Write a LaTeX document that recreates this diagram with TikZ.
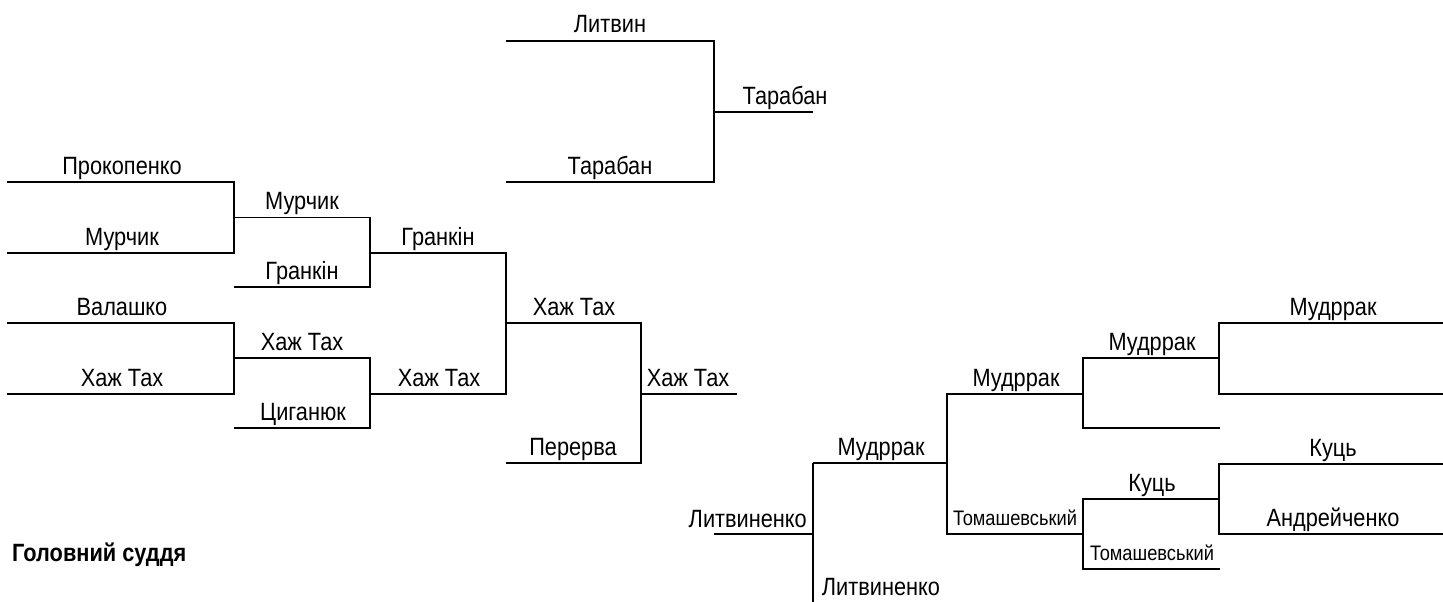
\documentclass[tikz,border=0pt]{standalone}
\usepackage{fontspec}
\setmainfont{Liberation Sans}[FakeStretch=0.87]
\begin{document}
\begin{tikzpicture}[x=1pt,y=-1pt,
  ln/.style={line width=1.7pt, line join=miter},
  lbl/.style={anchor=base, inner sep=0pt, font=\fontsize{25}{25}\selectfont},
  sml/.style={anchor=base, inner sep=0pt, font=\fontsize{21}{21}\selectfont},
  ttl/.style={anchor=base west, inner sep=0pt, font=\fontsize{25}{25}\selectfont\bfseries}]
\useasboundingbox (0,0) rectangle (1443,602);
% --- coordinates: left bracket
\coordinate (L1s) at (7,182);   \coordinate (L1e) at (234,182);
\coordinate (L2s) at (7,253);   \coordinate (L2e) at (234,253);
\coordinate (L3s) at (7,323);   \coordinate (L3e) at (234,323);
\coordinate (L4s) at (7,394);   \coordinate (L4e) at (234,394);
\coordinate (M1s) at (234,217.5); \coordinate (M1e) at (370,217.5);
\coordinate (M2s) at (234,287); \coordinate (M2e) at (370,287);
\coordinate (M3s) at (234,358); \coordinate (M3e) at (370,358);
\coordinate (M4s) at (234,428); \coordinate (M4e) at (370,428);
\coordinate (N1s) at (370,253); \coordinate (N1e) at (506,253);
\coordinate (N2s) at (370,394); \coordinate (N2e) at (506,394);
\coordinate (P1s) at (506,323); \coordinate (P1e) at (641,323);
\coordinate (P2s) at (506,463); \coordinate (P2e) at (641,463);
\coordinate (Q1s) at (641,394); \coordinate (Q1e) at (737,394);
% --- top bracket
\coordinate (T1s) at (506,41);  \coordinate (T1e) at (714,41);
\coordinate (T2s) at (506,182); \coordinate (T2e) at (714,182);
\coordinate (T3s) at (714,112); \coordinate (T3e) at (813,112);
% --- right bracket
\coordinate (R0s) at (714,534); \coordinate (R0e) at (813,534);
\coordinate (Rv1) at (813,463); \coordinate (Rv2) at (813,602);
\coordinate (R1e) at (947,463);
\coordinate (S1s) at (947,394); \coordinate (S1e) at (1083,394);
\coordinate (S2s) at (947,534); \coordinate (S2e) at (1083,534);
\coordinate (U1s) at (1083,358); \coordinate (U1e) at (1219,358);
\coordinate (U2s) at (1083,428); \coordinate (U2e) at (1220,428);
\coordinate (U3s) at (1083,499); \coordinate (U3e) at (1219,499);
\coordinate (U4s) at (1083,569); \coordinate (U4e) at (1220,569);
\coordinate (V1s) at (1219,323); \coordinate (V1e) at (1443,323);
\coordinate (V2s) at (1219,394); \coordinate (V2e) at (1443,394);
\coordinate (V3s) at (1219,464); \coordinate (V3e) at (1443,464);
\coordinate (V4s) at (1219,534); \coordinate (V4e) at (1443,534);
% --- lines
\draw[ln] (L1s) -- (L1e) -- (L2e) -- (L2s);
\draw[ln] (L3s) -- (L3e) -- (L4e) -- (L4s);
\draw[ln] (M1s) -- (M1e) -- (M2e) -- (M2s);
\draw[ln] (M3s) -- (M3e) -- (M4e) -- (M4s);
\draw[ln] (N1s) -- (N1e) -- (N2e) -- (N2s);
\draw[ln] (P1s) -- (P1e) -- (P2e) -- (P2s);
\draw[ln] (Q1s) -- (Q1e);
\draw[ln] (T1s) -- (T1e) -- (T2e) -- (T2s);
\draw[ln] (T3s) -- (T3e);
\draw[ln] (R0s) -- (R0e);
\draw[ln] (Rv1) -- (Rv2);
\draw[ln] (Rv1) -- (R1e);
\draw[ln] (S1e) -- (S1s) -- (S2s) -- (S2e);
\draw[ln] (U1e) -- (U1s) -- (U2s) -- (U2e);
\draw[ln] (U3e) -- (U3s) -- (U4s) -- (U4e);
\draw[ln] (V1e) -- (V1s) -- (V2s) -- (V2e);
\draw[ln] (V3e) -- (V3s) -- (V4s) -- (V4e);
% --- labels
\node[lbl] (t1) at (122,174) {Прокопенко};
\node[lbl] (t2) at (122,245) {Мурчик};
\node[lbl] (t3) at (122,315) {Валашко};
\node[lbl] (t4) at (122,386) {Хаж Тах};
\node[lbl] (t5) at (302,209.5) {Мурчик};
\node[lbl] (t6) at (302,279) {Гранкін};
\node[lbl] (t7) at (302,350) {Хаж Тах};
\node[lbl] (t8) at (303,420) {Циганюк};
\node[lbl] (t9) at (438,245) {Гранкін};
\node[lbl] (t10) at (439,386) {Хаж Тах};
\node[lbl] (t11) at (610,33) {Литвин};
\node[lbl] (t12) at (610,174) {Тарабан};
\node[lbl] (t13) at (785,104) {Тарабан};
\node[lbl] (t14) at (574,315) {Хаж Тах};
\node[lbl] (t15) at (573,455) {Перерва};
\node[lbl] (t16) at (688,386) {Хаж Тах};
\node[lbl,anchor=base east] (t17) at (807,527) {Литвиненко};
\node[lbl] (t18) at (881,455) {Мудррак};
\node[lbl] (t19) at (881,595) {Литвиненко};
\node[lbl] (t20) at (1016,386) {Мудррак};
\node[sml] (t21) at (1015,525) {Томашевський};
\node[lbl] (t22) at (1152,350) {Мудррак};
\node[lbl] (t23) at (1152,491) {Куць};
\node[sml] (t24) at (1152,560) {Томашевський};
\node[lbl] (t25) at (1333,315) {Мудррак};
\node[lbl] (t26) at (1333,456) {Куць};
\node[lbl] (t27) at (1333,526) {Андрейченко};
\node[ttl] (t28) at (12,561) {Головний суддя};
\end{tikzpicture}
\end{document}
